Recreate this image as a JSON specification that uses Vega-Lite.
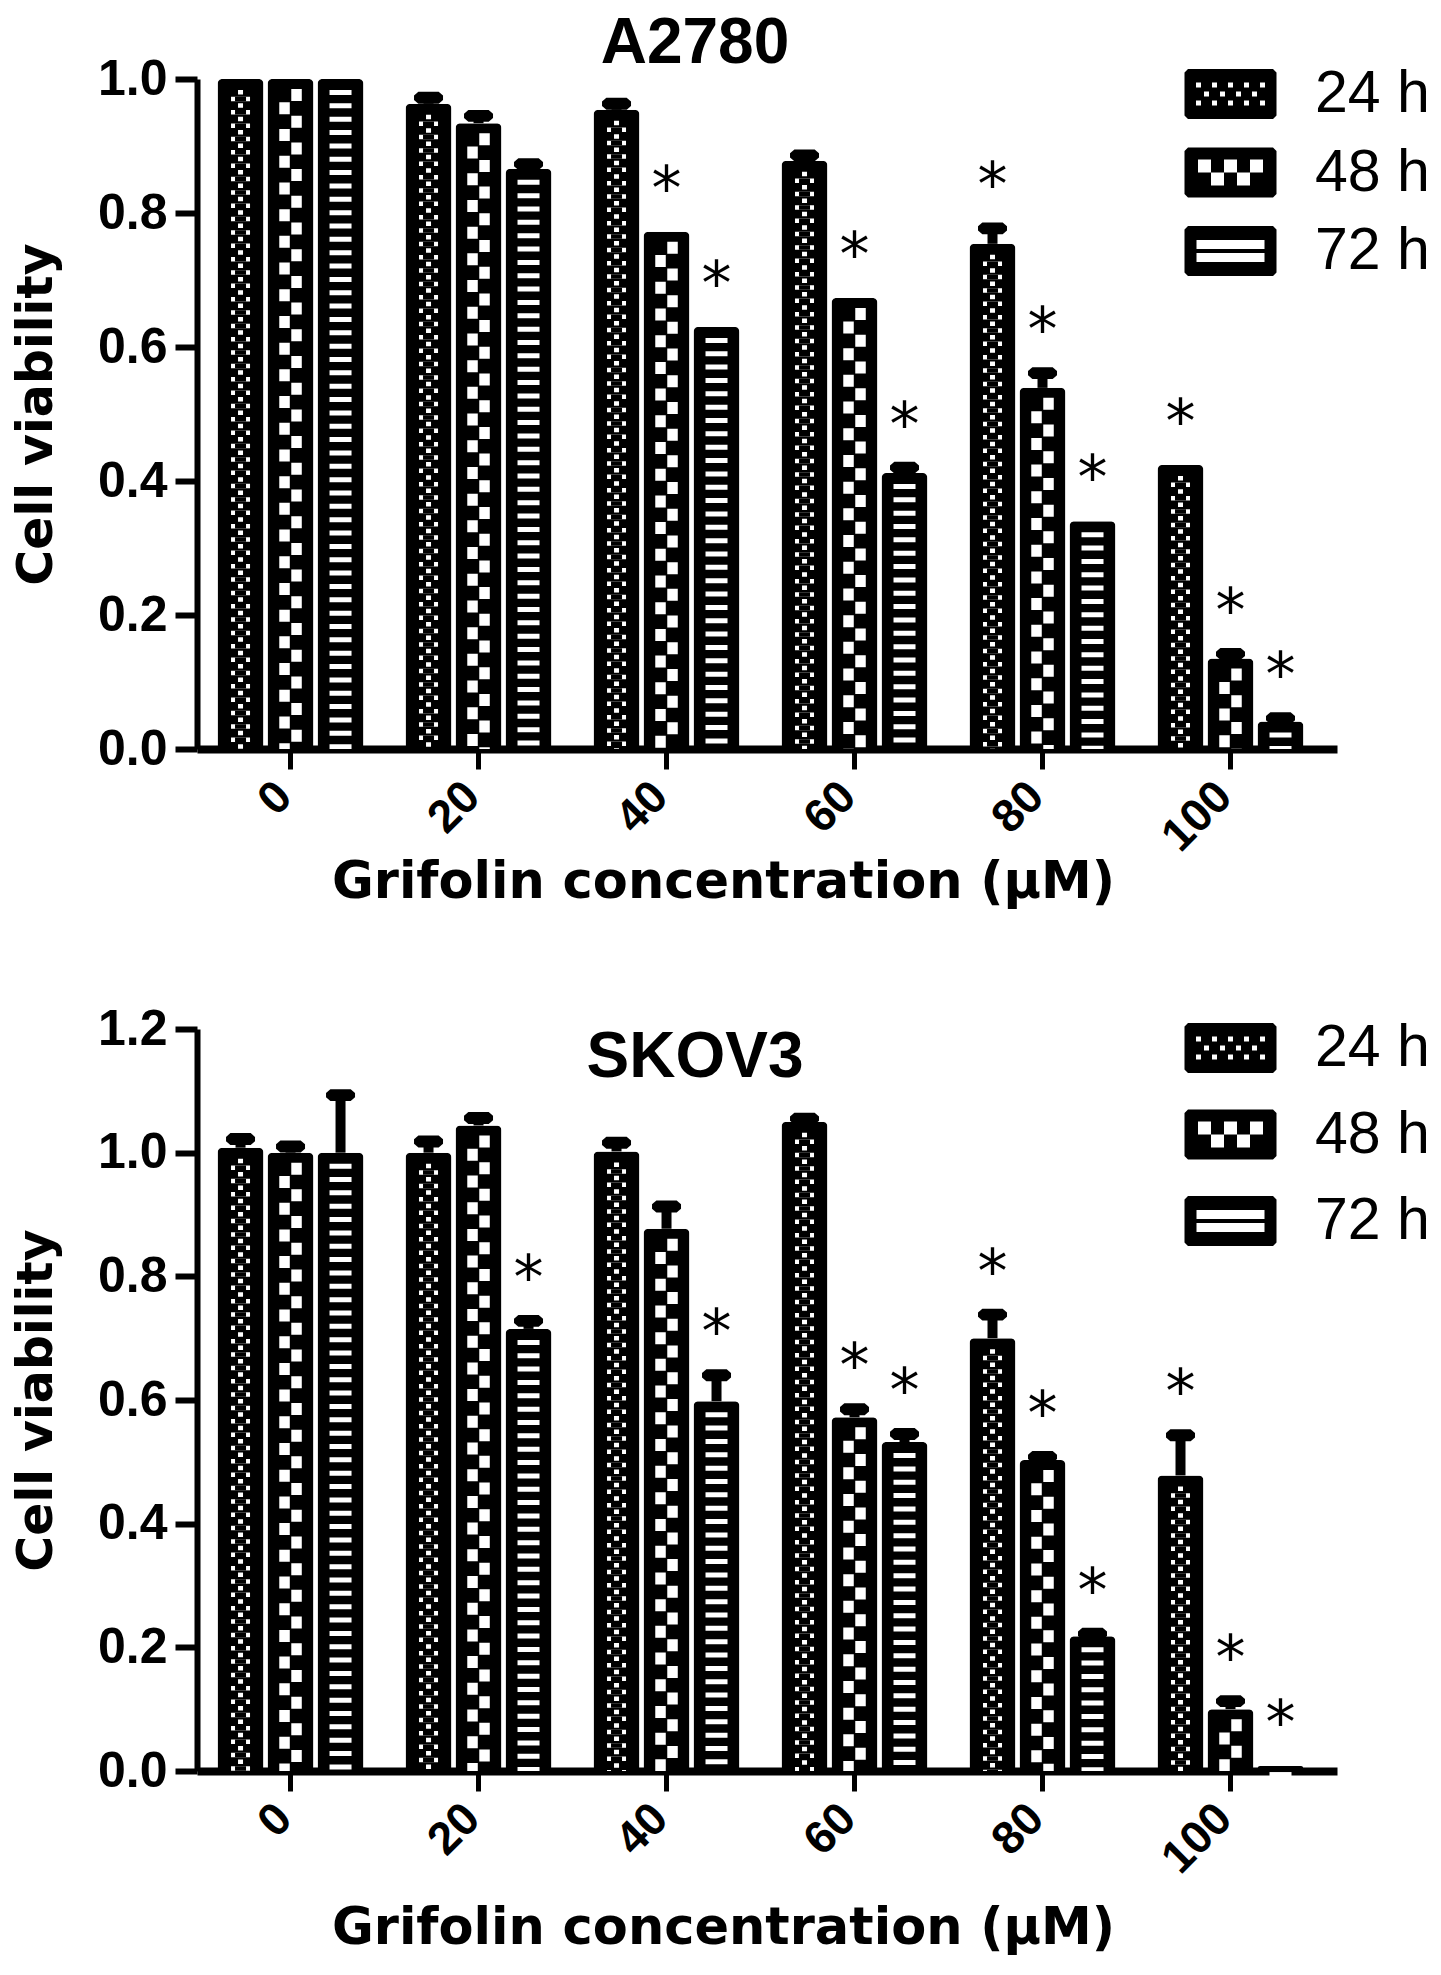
{
  "$schema": "https://vega.github.io/schema/vega-lite/v6.json",
  "description": "Grifolin cell viability, A2780 and SKOV3, grouped pattern bars",
  "padding": {"top": 12, "left": 12, "right": 0, "bottom": 12},
  "background": "white",
  "config": {
    "view": {"stroke": null},
    "font": "Liberation Sans",
    "axis": {
      "domainColor": "black", "tickColor": "black", "labelColor": "black", "titleColor": "black",
      "labelFont": "Liberation Sans", "labelFontWeight": "bold",
      "titleFont": "DejaVu Sans", "titleFontWeight": "bold",
      "grid": false, "zindex": 1
    },
    "axisX": {
      "domainWidth": 8, "tickWidth": 5, "tickSize": 20, "labelAngle": -45,
      "labelAlign": "right", "labelBaseline": "middle", "labelOffset": -6,
      "labelFontSize": 46, "labelPadding": 20, "titleFontSize": 51,
      "titleX": 526, "titleBaseline": "alphabetic", "titleAlign": "center"
    },
    "axisY": {
      "domainWidth": 6, "tickWidth": 6, "tickSize": 22, "labelFontSize": 50,
      "labelPadding": 8, "titleFontSize": 49, "titleX": -146,
      "titleBaseline": "alphabetic", "format": ".1f"
    },
    "legend": {
      "symbolSize": 2500, "symbolFillColor": "black", "symbolStrokeWidth": 0,
      "symbolOpacity": 1, "labelFont": "Liberation Sans", "labelFontSize": 59,
      "labelColor": "black", "labelOffset": 55, "padding": 0
    },
    "title": {
      "font": "Liberation Sans", "fontSize": 64, "fontWeight": "bold", "color": "black",
      "anchor": "middle", "frame": "group", "baseline": "alphabetic", "dx": -72
    }
  },
  "datasets": {
    "a2780": [
      {"conc": 0, "time": "24 h", "v": 1.0, "hi": 1.0, "sig": false},
      {"conc": 0, "time": "48 h", "v": 1.0, "hi": 1.0, "sig": false},
      {"conc": 0, "time": "72 h", "v": 1.0, "hi": 1.0, "sig": false},
      {"conc": 20, "time": "24 h", "v": 0.963, "hi": 0.972, "sig": false},
      {"conc": 20, "time": "48 h", "v": 0.934, "hi": 0.945, "sig": false},
      {"conc": 20, "time": "72 h", "v": 0.866, "hi": 0.873, "sig": false},
      {"conc": 40, "time": "24 h", "v": 0.954, "hi": 0.963, "sig": false},
      {"conc": 40, "time": "48 h", "v": 0.772, "hi": 0.772, "sig": true},
      {"conc": 40, "time": "72 h", "v": 0.63, "hi": 0.63, "sig": true},
      {"conc": 60, "time": "24 h", "v": 0.878, "hi": 0.886, "sig": false},
      {"conc": 60, "time": "48 h", "v": 0.673, "hi": 0.673, "sig": true},
      {"conc": 60, "time": "72 h", "v": 0.412, "hi": 0.42, "sig": true},
      {"conc": 80, "time": "24 h", "v": 0.754, "hi": 0.777, "sig": true},
      {"conc": 80, "time": "48 h", "v": 0.539, "hi": 0.561, "sig": true},
      {"conc": 80, "time": "72 h", "v": 0.34, "hi": 0.34, "sig": true},
      {"conc": 100, "time": "24 h", "v": 0.424, "hi": 0.424, "sig": true},
      {"conc": 100, "time": "48 h", "v": 0.135, "hi": 0.142, "sig": true},
      {"conc": 100, "time": "72 h", "v": 0.041, "hi": 0.046, "sig": true}
    ],
    "skov3": [
      {"conc": 0, "time": "24 h", "v": 1.008, "hi": 1.022, "sig": false},
      {"conc": 0, "time": "48 h", "v": 1.0, "hi": 1.01, "sig": false},
      {"conc": 0, "time": "72 h", "v": 1.0, "hi": 1.093, "sig": false},
      {"conc": 20, "time": "24 h", "v": 1.0, "hi": 1.018, "sig": false},
      {"conc": 20, "time": "48 h", "v": 1.044, "hi": 1.056, "sig": false},
      {"conc": 20, "time": "72 h", "v": 0.715, "hi": 0.728, "sig": true},
      {"conc": 40, "time": "24 h", "v": 1.002, "hi": 1.016, "sig": false},
      {"conc": 40, "time": "48 h", "v": 0.877, "hi": 0.913, "sig": false},
      {"conc": 40, "time": "72 h", "v": 0.598, "hi": 0.64, "sig": true},
      {"conc": 60, "time": "24 h", "v": 1.05, "hi": 1.055, "sig": false},
      {"conc": 60, "time": "48 h", "v": 0.572, "hi": 0.585, "sig": true},
      {"conc": 60, "time": "72 h", "v": 0.532, "hi": 0.545, "sig": true},
      {"conc": 80, "time": "24 h", "v": 0.7, "hi": 0.738, "sig": true},
      {"conc": 80, "time": "48 h", "v": 0.503, "hi": 0.508, "sig": true},
      {"conc": 80, "time": "72 h", "v": 0.218, "hi": 0.222, "sig": true},
      {"conc": 100, "time": "24 h", "v": 0.478, "hi": 0.543, "sig": true},
      {"conc": 100, "time": "48 h", "v": 0.1, "hi": 0.113, "sig": true},
      {"conc": 100, "time": "72 h", "v": 0.008, "hi": 0.008, "sig": true}
    ]
  },
  "vconcat": [
    {
      "data": {"name": "a2780"},
      "width": 1140,
      "height": 670,
      "title": {"text": "A2780", "offset": -22},
      "encoding": {
        "x": {
          "field": "conc", "type": "ordinal",
          "scale": {"paddingInner": 0.2234, "paddingOuter": 0.1437, "align": 0.38},
          "axis": {"title": "Grifolin concentration (µM)", "titleY": 148}
        },
        "y": {
          "field": "v", "type": "quantitative",
          "scale": {"domain": [0, 1], "nice": false},
          "axis": {"title": "Cell viability", "values": [0, 0.2, 0.4, 0.6, 0.8, 1]}
        }
      },
      "layer": [
        {
          "mark": {"type": "point", "filled": true, "color": "black", "opacity": 0, "size": 50},
          "encoding": {
            "xOffset": {"field": "time", "type": "nominal", "scale": {"paddingInner": 0.08, "paddingOuter": 0}},
            "shape": {
              "field": "time", "type": "nominal",
              "scale": {"range": [
                "M-1.7,-1L1.7,-1L1.84,-0.86L1.84,0.86L1.7,1L-1.7,1L-1.84,0.86L-1.84,-0.86ZM-1.38,-0.46L-1.38,-0.26L-1.18,-0.26L-1.18,-0.46ZM-0.74,-0.46L-0.74,-0.26L-0.54,-0.26L-0.54,-0.46ZM-0.1,-0.46L-0.1,-0.26L0.1,-0.26L0.1,-0.46ZM0.54,-0.46L0.54,-0.26L0.74,-0.26L0.74,-0.46ZM1.18,-0.46L1.18,-0.26L1.38,-0.26L1.38,-0.46ZM-1.06,-0.1L-1.06,0.1L-0.86,0.1L-0.86,-0.1ZM-0.42,-0.1L-0.42,0.1L-0.22,0.1L-0.22,-0.1ZM0.22,-0.1L0.22,0.1L0.42,0.1L0.42,-0.1ZM0.86,-0.1L0.86,0.1L1.06,0.1L1.06,-0.1ZM-1.38,0.26L-1.38,0.46L-1.18,0.46L-1.18,0.26ZM-0.74,0.26L-0.74,0.46L-0.54,0.46L-0.54,0.26ZM-0.1,0.26L-0.1,0.46L0.1,0.46L0.1,0.26ZM0.54,0.26L0.54,0.46L0.74,0.46L0.74,0.26ZM1.18,0.26L1.18,0.46L1.38,0.46L1.38,0.26Z",
                "M-1.7,-1L1.7,-1L1.84,-0.86L1.84,0.86L1.7,1L-1.7,1L-1.84,0.86L-1.84,-0.86ZM-1.3,-0.52L-1.3,0L-0.78,0L-0.78,-0.52ZM-0.26,-0.52L-0.26,0L0.26,0L0.26,-0.52ZM0.78,-0.52L0.78,0L1.3,0L1.3,-0.52ZM-0.78,0L-0.78,0.52L-0.26,0.52L-0.26,0ZM0.26,0L0.26,0.52L0.78,0.52L0.78,0Z",
                "M-1.7,-1L1.7,-1L1.84,-0.86L1.84,0.86L1.7,1L-1.7,1L-1.84,0.86L-1.84,-0.86ZM-1.36,-0.44L-1.36,-0.08L1.36,-0.08L1.36,-0.44ZM-1.36,0.08L-1.36,0.44L1.36,0.44L1.36,0.08Z"
              ]},
              "legend": {"title": null, "orient": "none", "legendX": 1004, "legendY": -14.5, "rowPadding": 18.5}
            }
          }
        },
        {
          "mark": {"type": "bar", "color": "black", "cornerRadiusTopLeft": 5, "cornerRadiusTopRight": 5},
          "encoding": {"xOffset": {"field": "time", "type": "nominal"}}
        },
        {
          "transform": [{"filter": "datum.time === '72 h'"}],
          "mark": {"type": "rule", "color": "white", "strokeWidth": 22, "strokeDash": [5, 8.35], "yOffset": 11},
          "encoding": {"xOffset": {"field": "time", "type": "nominal"}, "y2": {"datum": 0}}
        },
        {
          "transform": [{"filter": "datum.time === '24 h'"}],
          "mark": {"type": "rule", "color": "white", "strokeWidth": 19, "strokeDash": [4.5, 8.85], "yOffset": 17.7},
          "encoding": {"xOffset": {"field": "time", "type": "nominal"}, "y2": {"datum": 0}}
        },
        {
          "transform": [{"filter": "datum.time === '24 h'"}],
          "mark": {"type": "rule", "color": "black", "strokeWidth": 11, "strokeDash": [4.5, 8.85], "yOffset": 17.7},
          "encoding": {"xOffset": {"field": "time", "type": "nominal"}, "y2": {"datum": 0}}
        },
        {
          "transform": [{"filter": "datum.time === '24 h'"}],
          "mark": {"type": "rule", "color": "white", "strokeWidth": 5, "strokeDash": [4.5, 8.85], "yOffset": 11},
          "encoding": {"xOffset": {"field": "time", "type": "nominal"}, "y2": {"datum": 0}}
        },
        {
          "transform": [{"filter": "datum.time === '48 h'"}],
          "mark": {"type": "rule", "color": "white", "strokeWidth": 10.5, "strokeDash": [12, 14.7], "yOffset": 10, "xOffset": 6},
          "encoding": {"y2": {"datum": 0}}
        },
        {
          "transform": [{"filter": "datum.time === '48 h'"}],
          "mark": {"type": "rule", "color": "white", "strokeWidth": 10.5, "strokeDash": [12, 14.7], "yOffset": 23.35, "xOffset": -6},
          "encoding": {"y2": {"datum": 0}}
        },
        {
          "transform": [{"filter": "datum.hi > datum.v"}],
          "mark": {"type": "rule", "color": "black", "strokeWidth": 10},
          "encoding": {"xOffset": {"field": "time", "type": "nominal"}, "y": {"field": "hi", "type": "quantitative"}, "y2": {"field": "v"}}
        },
        {
          "transform": [{"filter": "datum.hi > datum.v"}],
          "mark": {"type": "point", "filled": true, "color": "black", "opacity": 1, "size": 841, "shape": "M-1,-0.15L-0.7,-0.41L0.7,-0.41L1,-0.15L1,0.15L0.7,0.41L-0.7,0.41L-1,0.15Z"},
          "encoding": {"xOffset": {"field": "time", "type": "nominal"}, "y": {"field": "hi", "type": "quantitative"}}
        },
        {
          "transform": [{"filter": "datum.sig"}],
          "mark": {"type": "text", "text": "*", "font": "DejaVu Sans", "fontSize": 60, "color": "black", "baseline": "alphabetic", "dy": -23},
          "encoding": {"xOffset": {"field": "time", "type": "nominal"}, "y": {"field": "hi", "type": "quantitative"}}
        }
      ]
    },
    {
      "data": {"name": "skov3"},
      "width": 1140,
      "height": 742,
      "title": {"text": "SKOV3", "offset": -86},
      "encoding": {
        "x": {
          "field": "conc", "type": "ordinal",
          "scale": {"paddingInner": 0.2234, "paddingOuter": 0.1437, "align": 0.38},
          "axis": {"title": "Grifolin concentration (µM)", "titleY": 172}
        },
        "y": {
          "field": "v", "type": "quantitative",
          "scale": {"domain": [0, 1.2], "nice": false},
          "axis": {"title": "Cell viability", "values": [0, 0.2, 0.4, 0.6, 0.8, 1, 1.2]}
        }
      },
      "layer": [
        {
          "mark": {"type": "point", "filled": true, "color": "black", "opacity": 0, "size": 50},
          "encoding": {
            "xOffset": {"field": "time", "type": "nominal", "scale": {"paddingInner": 0.08, "paddingOuter": 0}},
            "shape": {
              "field": "time", "type": "nominal",
              "scale": {"range": [
                "M-1.7,-1L1.7,-1L1.84,-0.86L1.84,0.86L1.7,1L-1.7,1L-1.84,0.86L-1.84,-0.86ZM-1.38,-0.46L-1.38,-0.26L-1.18,-0.26L-1.18,-0.46ZM-0.74,-0.46L-0.74,-0.26L-0.54,-0.26L-0.54,-0.46ZM-0.1,-0.46L-0.1,-0.26L0.1,-0.26L0.1,-0.46ZM0.54,-0.46L0.54,-0.26L0.74,-0.26L0.74,-0.46ZM1.18,-0.46L1.18,-0.26L1.38,-0.26L1.38,-0.46ZM-1.06,-0.1L-1.06,0.1L-0.86,0.1L-0.86,-0.1ZM-0.42,-0.1L-0.42,0.1L-0.22,0.1L-0.22,-0.1ZM0.22,-0.1L0.22,0.1L0.42,0.1L0.42,-0.1ZM0.86,-0.1L0.86,0.1L1.06,0.1L1.06,-0.1ZM-1.38,0.26L-1.38,0.46L-1.18,0.46L-1.18,0.26ZM-0.74,0.26L-0.74,0.46L-0.54,0.46L-0.54,0.26ZM-0.1,0.26L-0.1,0.46L0.1,0.46L0.1,0.26ZM0.54,0.26L0.54,0.46L0.74,0.46L0.74,0.26ZM1.18,0.26L1.18,0.46L1.38,0.46L1.38,0.26Z",
                "M-1.7,-1L1.7,-1L1.84,-0.86L1.84,0.86L1.7,1L-1.7,1L-1.84,0.86L-1.84,-0.86ZM-1.3,-0.52L-1.3,0L-0.78,0L-0.78,-0.52ZM-0.26,-0.52L-0.26,0L0.26,0L0.26,-0.52ZM0.78,-0.52L0.78,0L1.3,0L1.3,-0.52ZM-0.78,0L-0.78,0.52L-0.26,0.52L-0.26,0ZM0.26,0L0.26,0.52L0.78,0.52L0.78,0Z",
                "M-1.7,-1L1.7,-1L1.84,-0.86L1.84,0.86L1.7,1L-1.7,1L-1.84,0.86L-1.84,-0.86ZM-1.36,-0.44L-1.36,-0.08L1.36,-0.08L1.36,-0.44ZM-1.36,0.08L-1.36,0.44L1.36,0.44L1.36,0.08Z"
              ]},
              "legend": {"title": null, "orient": "none", "legendX": 1004, "legendY": -10.5, "rowPadding": 26.5}
            }
          }
        },
        {
          "mark": {"type": "bar", "color": "black", "cornerRadiusTopLeft": 5, "cornerRadiusTopRight": 5},
          "encoding": {"xOffset": {"field": "time", "type": "nominal"}}
        },
        {
          "transform": [{"filter": "datum.time === '72 h'"}],
          "mark": {"type": "rule", "color": "white", "strokeWidth": 22, "strokeDash": [5, 8.35], "yOffset": 11},
          "encoding": {"xOffset": {"field": "time", "type": "nominal"}, "y2": {"datum": 0}}
        },
        {
          "transform": [{"filter": "datum.time === '24 h'"}],
          "mark": {"type": "rule", "color": "white", "strokeWidth": 19, "strokeDash": [4.5, 8.85], "yOffset": 17.7},
          "encoding": {"xOffset": {"field": "time", "type": "nominal"}, "y2": {"datum": 0}}
        },
        {
          "transform": [{"filter": "datum.time === '24 h'"}],
          "mark": {"type": "rule", "color": "black", "strokeWidth": 11, "strokeDash": [4.5, 8.85], "yOffset": 17.7},
          "encoding": {"xOffset": {"field": "time", "type": "nominal"}, "y2": {"datum": 0}}
        },
        {
          "transform": [{"filter": "datum.time === '24 h'"}],
          "mark": {"type": "rule", "color": "white", "strokeWidth": 5, "strokeDash": [4.5, 8.85], "yOffset": 11},
          "encoding": {"xOffset": {"field": "time", "type": "nominal"}, "y2": {"datum": 0}}
        },
        {
          "transform": [{"filter": "datum.time === '48 h'"}],
          "mark": {"type": "rule", "color": "white", "strokeWidth": 10.5, "strokeDash": [12, 14.7], "yOffset": 10, "xOffset": 6},
          "encoding": {"y2": {"datum": 0}}
        },
        {
          "transform": [{"filter": "datum.time === '48 h'"}],
          "mark": {"type": "rule", "color": "white", "strokeWidth": 10.5, "strokeDash": [12, 14.7], "yOffset": 23.35, "xOffset": -6},
          "encoding": {"y2": {"datum": 0}}
        },
        {
          "transform": [{"filter": "datum.hi > datum.v"}],
          "mark": {"type": "rule", "color": "black", "strokeWidth": 10},
          "encoding": {"xOffset": {"field": "time", "type": "nominal"}, "y": {"field": "hi", "type": "quantitative"}, "y2": {"field": "v"}}
        },
        {
          "transform": [{"filter": "datum.hi > datum.v"}],
          "mark": {"type": "point", "filled": true, "color": "black", "opacity": 1, "size": 841, "shape": "M-1,-0.15L-0.7,-0.41L0.7,-0.41L1,-0.15L1,0.15L0.7,0.41L-0.7,0.41L-1,0.15Z"},
          "encoding": {"xOffset": {"field": "time", "type": "nominal"}, "y": {"field": "hi", "type": "quantitative"}}
        },
        {
          "transform": [{"filter": "datum.sig"}],
          "mark": {"type": "text", "text": "*", "font": "DejaVu Sans", "fontSize": 60, "color": "black", "baseline": "alphabetic", "dy": -23},
          "encoding": {"xOffset": {"field": "time", "type": "nominal"}, "y": {"field": "hi", "type": "quantitative"}}
        }
      ]
    }
  ],
  "spacing": 97,
  "resolve": {"scale": {"shape": "independent"}, "legend": {"shape": "independent"}}
}
